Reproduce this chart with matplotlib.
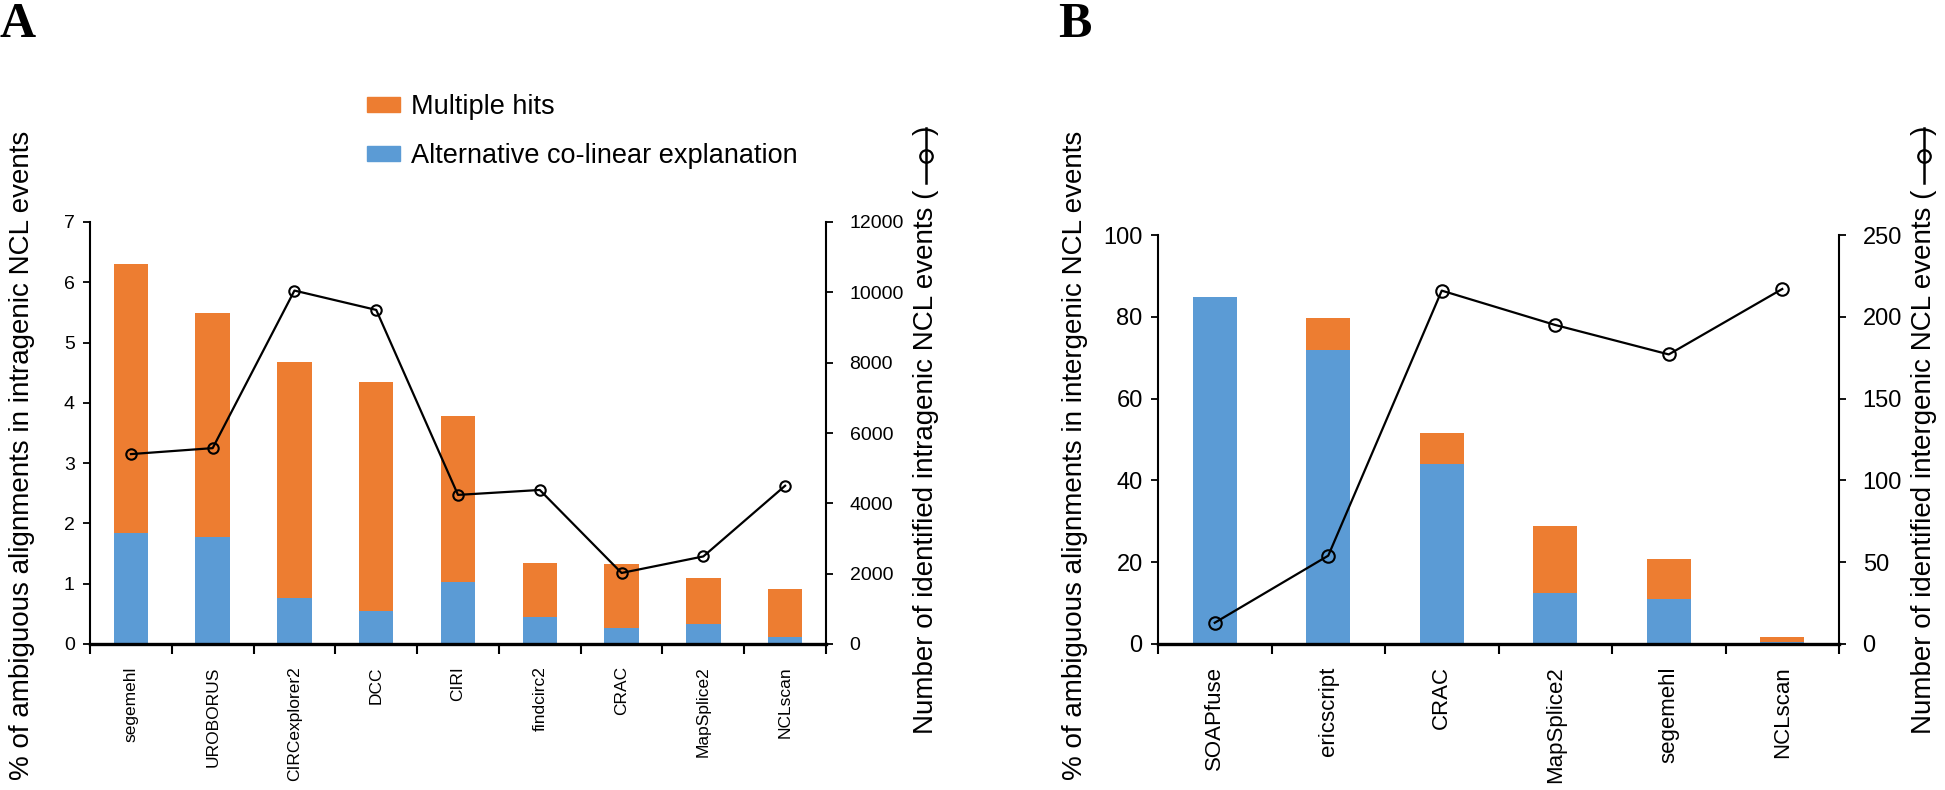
import numpy as np
import matplotlib
matplotlib.use('Agg')
import matplotlib.pyplot as plt
from matplotlib.lines import Line2D
from matplotlib.patches import Patch

# panel A: intragenic NCL events
tools_a = ['segemehl', 'UROBORUS', 'CIRCexplorer2', 'DCC', 'CIRI',
           'findcirc2', 'CRAC', 'MapSplice2', 'NCLscan']
colinear_a = [1.84, 1.78, 0.76, 0.54, 1.03, 0.44, 0.26, 0.34, 0.11]
multiple_a = [4.46, 3.71, 3.91, 3.80, 2.76, 0.90, 1.06, 0.75, 0.81]
count_a = [5400, 5570, 10050, 9500, 4240, 4380, 2020, 2490, 4500]

# panel B: intergenic NCL events
tools_b = ['SOAPfuse', 'ericscript', 'CRAC', 'MapSplice2', 'segemehl', 'NCLscan']
colinear_b = [84.9, 72.0, 43.9, 12.5, 11.0, 0.6]
multiple_b = [0.0, 7.7, 7.6, 16.4, 9.9, 1.1]
count_b = [13, 54, 216, 195, 177, 217]

orange = '#ED7D31'
blue = '#5B9BD5'

plt.rcParams['font.family'] = ['Liberation Sans', 'DejaVu Sans']

W, H = 1945, 790
fig = plt.figure(figsize=(W / 100, H / 100), dpi=100)


def px(x, y):
    return x / W, 1 - y / H


def panel(rect, tools, colinear, multiple, count, ymax, ystep, y2max, y2step,
          barw, tickfs, catfs, msize, pad2):
    ax = fig.add_axes(rect)
    x = np.arange(len(tools))
    ax.bar(x, colinear, barw, color=blue, linewidth=0)
    ax.bar(x, multiple, barw, bottom=colinear, color=orange, linewidth=0)
    ax.set_xlim(-0.5, len(tools) - 0.5)
    ax.set_ylim(0, ymax)
    ax.set_yticks(np.arange(0, ymax + 0.01, ystep))
    ax.set_xticks(x)
    ax.set_xticklabels(tools, rotation=90, fontsize=catfs, va='top')
    ax.set_xticks(np.arange(-0.5, len(tools)), minor=True)
    ax.tick_params(axis='x', which='major', length=0, pad=16)
    ax.tick_params(axis='x', which='minor', length=7, width=1.5, direction='out')
    ax.tick_params(axis='y', length=5, width=1.3, labelsize=tickfs, pad=6)
    ax.spines['top'].set_visible(False)
    ax.spines['right'].set_visible(False)
    ax.spines['left'].set_linewidth(1.5)
    ax.spines['bottom'].set_linewidth(2.4)

    ax2 = ax.twinx()
    ax2.plot(x, count, color='black', linewidth=1.6, marker='o', markersize=msize,
             markerfacecolor='none', markeredgecolor='black', markeredgewidth=1.5)
    ax2.set_ylim(0, y2max)
    ax2.set_yticks(np.arange(0, y2max + 0.01, y2step))
    ax2.tick_params(axis='y', length=5, width=1.3, labelsize=tickfs, pad=pad2)
    ax2.spines['top'].set_visible(False)
    ax2.spines['left'].set_visible(False)
    ax2.spines['bottom'].set_visible(False)
    ax2.spines['right'].set_linewidth(1.5)
    return ax, ax2


axA, axA2 = panel([90 / W, 1 - 644 / H, 736 / W, 422 / H], tools_a, colinear_a,
                  multiple_a, count_a, 7, 1, 12000, 2000, 0.42, 14, 12.5, 7.5, 12)
axB, axB2 = panel([1158 / W, 1 - 644 / H, 681 / W, 409 / H], tools_b, colinear_b,
                  multiple_b, count_b, 100, 20, 250, 50, 0.39, 17, 16, 9, 12)


def right_label(xc, paren_top, text, fs):
    # main text ending in "(" then the line-marker symbol and ")"
    fig.text(*px(xc, paren_top), text + ' (', rotation=90, ha='center', va='top',
             fontsize=fs)
    x0, _ = px(xc, 0)
    _, ya = px(0, paren_top - 7)
    _, yb = px(0, paren_top - 62)
    _, ym = px(0, paren_top - 34)
    fig.add_artist(Line2D([x0, x0], [ya, yb], color='black', linewidth=1.8,
                          transform=fig.transFigure))
    fig.add_artist(Line2D([x0], [ym], marker='o', markersize=9, markerfacecolor='none',
                          markeredgecolor='black', markeredgewidth=1.6,
                          transform=fig.transFigure))
    fig.text(*px(xc, paren_top - 64), ')', rotation=90, ha='center', va='top',
             fontsize=fs)


fig.text(*px(22, 455), '% of ambiguous alignments in intragenic NCL events',
         rotation=90, ha='center', va='center', fontsize=20)
right_label(926, 190, 'Number of identified intragenic NCL events', 20)
fig.text(*px(1075, 455), '% of ambiguous alignments in intergenic NCL events',
         rotation=90, ha='center', va='center', fontsize=20)
right_label(1924, 190, 'Number of identified intergenic NCL events', 20)

fig.text(*px(0, 2), 'A', fontsize=36, fontweight='bold', family='Liberation Serif',
         ha='left', va='top')
fig.text(*px(1058, 2), 'B', fontsize=36, fontweight='bold', family='Liberation Serif',
         ha='left', va='top')

handles = [Patch(color=orange, label='Multiple hits'),
           Patch(color=blue, label='Alternative co-linear explanation')]
fig.legend(handles=handles, loc='upper left', bbox_to_anchor=px(343, 70),
           frameon=False, fontsize=19.5, handlelength=1.2, handleheight=0.45,
           handletextpad=0.4, labelspacing=0.85)

fig.savefig('out.png', dpi=100)
